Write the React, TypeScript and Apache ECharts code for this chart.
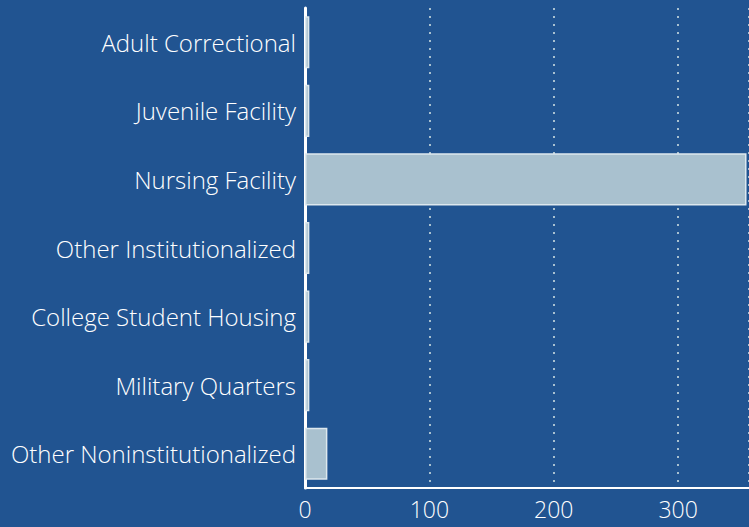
import React, { useEffect, useRef } from "react";
import * as echarts from "echarts";

const categories = [
  "Adult Correctional",
  "Juvenile Facility",
  "Nursing Facility",
  "Other Institutionalized",
  "College Student Housing",
  "Military Quarters",
  "Other Noninstitutionalized",
];
const values = [3.5, 3.5, 355, 3.5, 3.5, 3.5, 18];
const xTicks = [0, 100, 200, 300];

export default function App() {
  const ref = useRef<HTMLDivElement>(null);
  useEffect(() => {
    if (!ref.current) return;
    const chart = echarts.init(ref.current, undefined, { renderer: "svg" });
    chart.setOption({
      animation: false,
      backgroundColor: "#215491",
      grid: { left: 305, right: 0, top: 8, bottom: 39, containLabel: false },
      xAxis: {
        type: "value",
        min: 0,
        max: 357,
        interval: 100,
        axisLine: { show: true, lineStyle: { color: "#ffffff", width: 2 } },
        axisTick: { show: false },
        axisLabel: {
          color: "#ffffff",
          fontSize: 23,
          fontFamily: "Open Sans",
          fontWeight: 300,
          margin: 9,
          showMaxLabel: false,
          formatter: (v: number) => (xTicks.includes(v) ? String(v) : ""),
        },
        splitLine: {
          show: true,
          lineStyle: { color: "#a9c1d0", type: [2, 6], width: 2 },
        },
      },
      yAxis: {
        type: "category",
        inverse: true,
        data: categories,
        axisLine: { show: true, lineStyle: { color: "#ffffff", width: 3 } },
        axisTick: { show: false },
        axisLabel: {
          color: "#ffffff",
          fontSize: 24,
          fontFamily: "Open Sans",
          fontWeight: 300,
          margin: 9,
        },
        splitLine: { show: false },
      },
      series: [
        {
          type: "bar",
          data: values,
          barCategoryGap: "24%",
          itemStyle: {
            color: "#a9c1cf",
            borderColor: "#dde8ee",
            borderWidth: 1.5,
          },
        },
      ],
    });
    return () => chart.dispose();
  }, []);
  return (
    <div
      ref={ref}
      style={{ position: "absolute", left: 0, top: 0, width: 749, height: 527 }}
    />
  );
}
